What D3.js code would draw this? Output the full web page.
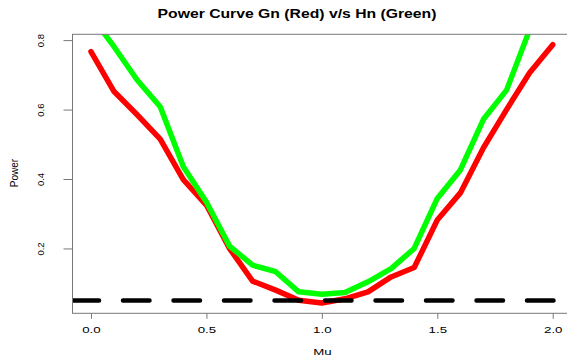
<!DOCTYPE html>
<html>
<head>
<meta charset="utf-8">
<script src="https://cdn.jsdelivr.net/npm/d3@7"></script>
<style>
  body { margin: 0; background: #fff; }
  text { font-family: "Liberation Sans", Arial, sans-serif; fill: #000; }
</style>
</head>
<body>
<svg id="chart"></svg>
<script>
const mu = [0, 0.1, 0.2, 0.3, 0.4, 0.5, 0.6, 0.7, 0.8, 0.9, 1.0, 1.1, 1.2, 1.3, 1.4, 1.5, 1.6, 1.7, 1.8, 1.9, 2.0];
const powerGn = [0.767, 0.652, 0.585, 0.515, 0.398, 0.325, 0.200, 0.106, 0.080, 0.051, 0.043, 0.055, 0.075, 0.118, 0.145, 0.282, 0.360, 0.490, 0.600, 0.706, 0.787];
const powerHn = [0.870, 0.781, 0.685, 0.608, 0.435, 0.334, 0.207, 0.152, 0.133, 0.075, 0.068, 0.073, 0.104, 0.142, 0.200, 0.344, 0.426, 0.572, 0.656, 0.830, 0.950];
const alpha = 0.05;
const xTicks = [0, 0.5, 1.0, 1.5, 2.0];
const yTicks = [0.2, 0.4, 0.6, 0.8];

const W = 567, H = 356;
const margin = { top: 34.3, right: -4.2, bottom: 42.7, left: 72.5 };
const width = W - margin.left - margin.right;
const height = H - margin.top - margin.bottom;

// R style axis limits: data range padded by 4%
function pad(ext) {
  const r = ext[1] - ext[0];
  return [ext[0] - 0.04 * r, ext[1] + 0.04 * r];
}

const svg = d3.select("#chart").attr("width", W).attr("height", H);
const g = svg.append("g").attr("transform", `translate(${margin.left},${margin.top})`);

const x = d3.scaleLinear().domain(pad(d3.extent(mu))).range([0, width]);
const y = d3.scaleLinear().domain(pad(d3.extent(powerGn))).range([height, 0]);

g.append("clipPath").attr("id", "plotClip")
  .append("rect").attr("width", width).attr("height", height);

const plot = g.append("g").attr("clip-path", "url(#plotClip)");

const line = d3.line().x(d => x(d[0])).y(d => y(d[1]));

plot.append("path")
  .datum(d3.zip(mu, powerGn))
  .attr("d", line)
  .attr("fill", "none")
  .attr("stroke", "#ff0000")
  .attr("stroke-width", 5.5)
  .attr("stroke-linejoin", "round")
  .attr("stroke-linecap", "round");

plot.append("path")
  .datum(d3.zip(mu, powerHn))
  .attr("d", line)
  .attr("fill", "none")
  .attr("stroke", "#00ff00")
  .attr("stroke-width", 5.5)
  .attr("stroke-linejoin", "round")
  .attr("stroke-linecap", "round");

plot.append("line")
  .attr("x1", x(x.domain()[0])).attr("x2", x(x.domain()[1]))
  .attr("y1", y(alpha)).attr("y2", y(alpha))
  .attr("stroke", "#000")
  .attr("stroke-width", 4.5)
  .attr("stroke-dasharray", "26.5,24")
  .attr("stroke-linecap", "round");

// box
g.append("rect")
  .attr("x", 0).attr("y", 0).attr("width", width).attr("height", height)
  .attr("fill", "none").attr("stroke", "#777").attr("stroke-width", 1);

// x axis
const xAxis = g.append("g").attr("transform", `translate(0,${height})`)
  .call(d3.axisBottom(x).tickValues(xTicks).tickSize(5.5).tickFormat(d3.format(".1f")));
xAxis.select(".domain").remove();
xAxis.selectAll(".tick line").attr("stroke", "#777");
xAxis.selectAll(".tick text").remove();
xAxis.selectAll(".tick").append("text")
  .attr("transform", "translate(0,20) scale(1.4,1)")
  .attr("text-anchor", "middle")
  .style("font-size", "9.5px")
  .text(d => d3.format(".1f")(d));

// y axis
const yAxis = g.append("g")
  .call(d3.axisLeft(y).tickValues(yTicks).tickSize(9).tickFormat(d3.format(".1f")));
yAxis.select(".domain").remove();
yAxis.selectAll(".tick line").attr("stroke", "#777");
yAxis.selectAll(".tick text").remove();
yAxis.selectAll(".tick").append("text")
  .attr("transform", `translate(${44 - margin.left},0) rotate(-90)`)
  .attr("text-anchor", "middle")
  .style("font-size", "9.5px")
  .text(d => d3.format(".1f")(d));

// labels
svg.append("text")
  .attr("transform", "translate(297,17.5) scale(1.26,1)")
  .attr("text-anchor", "middle")
  .style("font-size", "12.5px").style("font-weight", "bold")
  .text("Power Curve Gn (Red) v/s Hn (Green)");

svg.append("text")
  .attr("transform", "translate(322.5,355) scale(1.4,1)")
  .attr("text-anchor", "middle")
  .style("font-size", "9.5px")
  .text("Mu");

svg.append("text")
  .attr("transform", "translate(18,173) rotate(-90)")
  .attr("text-anchor", "middle")
  .style("font-size", "10px")
  .text("Power");
</script>
</body>
</html>
